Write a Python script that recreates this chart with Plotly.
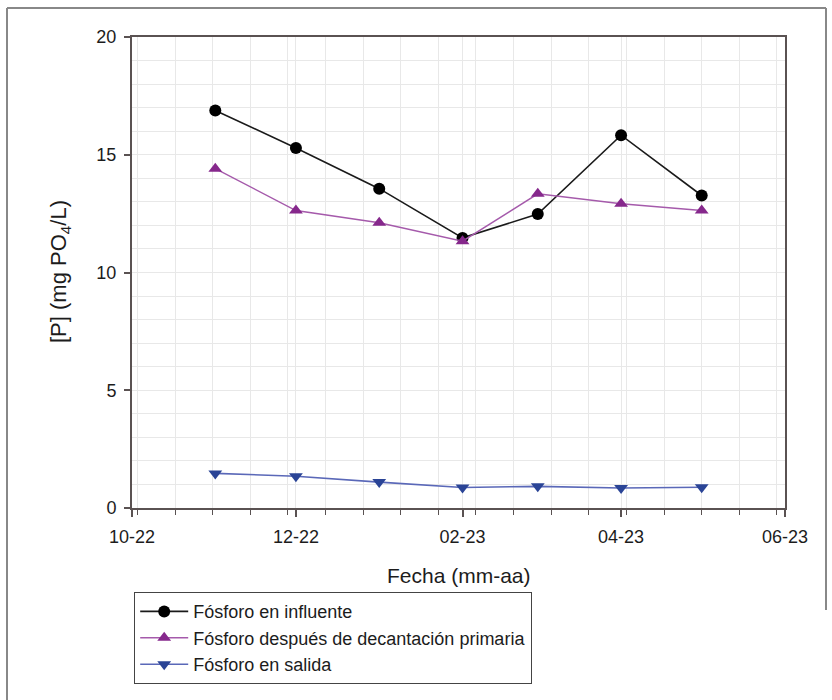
import plotly.graph_objects as go

fechas = ["2022-11-01", "2022-12-01", "2023-01-01", "2023-02-01",
          "2023-03-01", "2023-04-01", "2023-05-01"]
p_influente = [16.88, 15.29, 13.56, 11.47, 12.48, 15.83, 13.27]
p_decantacion = [14.41, 12.63, 12.11, 11.33, 13.34, 12.92, 12.63]
p_salida = [1.47, 1.35, 1.10, 0.87, 0.92, 0.85, 0.88]

nombres = ["Fósforo en influente",
           "Fósforo después de decantación primaria",
           "Fósforo en salida"]
x_ticks_fmt = "%m-%y"

W, H = 832, 700
L, R, T, B = 132, 785, 37, 508
pw, ph = R - L, B - T


def px_x(px):
    return (px - L) / pw


def px_y(py):
    return (B - py) / ph


fig = go.Figure()
fig.add_trace(go.Scatter(
    x=fechas, y=p_influente, name=nombres[0], mode="lines+markers",
    line=dict(color="#1a1a1a", width=1.6),
    marker=dict(symbol="circle", size=12, color="#000000"),
    legendgroup="a"))
fig.add_trace(go.Scatter(
    x=fechas, y=p_decantacion, name=nombres[1], mode="lines+markers",
    line=dict(color="#a55aab", width=1.4),
    marker=dict(symbol="triangle-up", size=12, color="#86288c"),
    legendgroup="b"))
fig.add_trace(go.Scatter(
    x=fechas, y=p_salida, name=nombres[2], mode="lines+markers",
    line=dict(color="#5a68b8", width=1.6),
    marker=dict(symbol="triangle-down", size=12, color="#2a4496"),
    legendgroup="c"))

axcol = "#5a5252"
gridcol = "#e8e8e8"
font = "Liberation Sans, Arial, sans-serif"
txtcol = "#1c1c1c"

fig.update_layout(
    width=W, height=H,
    margin=dict(l=L, r=W - R, t=T, b=H - B, pad=0),
    paper_bgcolor="white", plot_bgcolor="white",
    font=dict(family=font, size=18, color=txtcol),
    showlegend=True,
    legend=dict(x=px_x(134), y=px_y(592), xanchor="left", yanchor="top",
                bordercolor="#444444", borderwidth=1.2, bgcolor="white",
                font=dict(size=18, color=txtcol), tracegroupgap=0,
                itemwidth=48),
    xaxis=dict(
        type="date", range=["2022-10-01", "2023-06-01"],
        tick0="2022-10-01", dtick="M2", tickformat=x_ticks_fmt,
        showline=True, linecolor=axcol, linewidth=2, mirror=True,
        ticks="outside", ticklen=7, tickwidth=1.5, tickcolor=axcol,
        showgrid=True, gridcolor=gridcol, gridwidth=1,
        zeroline=False, ticklabelstandoff=4,
        tickfont=dict(size=18, color=txtcol),
        minor=dict(dtick=14 * 86400000, tick0="2022-10-03",
                   ticks="outside", ticklen=5, tickwidth=1.2,
                   tickcolor=axcol, showgrid=True, gridcolor=gridcol,
                   gridwidth=1),
    ),
    yaxis=dict(
        range=[0, 20], tick0=0, dtick=5,
        showline=True, linecolor=axcol, linewidth=2, mirror=True,
        ticks="outside", ticklen=6, tickwidth=1.5, tickcolor=axcol,
        showgrid=True, gridcolor=gridcol, gridwidth=1,
        zeroline=False, ticklabelstandoff=4,
        tickfont=dict(size=18, color=txtcol),
        minor=dict(dtick=1, showgrid=True, gridcolor=gridcol, gridwidth=1,
                   ticks=""),
    ),
    annotations=[
        dict(text="Fecha (mm-aa)", xref="paper", yref="paper",
             x=px_x(459), y=px_y(575), xanchor="center", yanchor="middle",
             showarrow=False, font=dict(size=21, color=txtcol)),
        dict(text="[P] (mg PO<sub>4</sub>/L)", xref="paper", yref="paper",
             x=px_x(60), y=px_y(272), xanchor="center", yanchor="middle",
             textangle=-90, showarrow=False,
             font=dict(size=22, color=txtcol)),
    ],
    shapes=[
        dict(type="line", xref="paper", yref="paper",
             x0=px_x(7), x1=px_x(7), y0=px_y(8), y1=px_y(702),
             line=dict(color="#888888", width=2)),
        dict(type="line", xref="paper", yref="paper",
             x0=px_x(7), x1=px_x(826), y0=px_y(8), y1=px_y(8),
             line=dict(color="#888888", width=2)),
        dict(type="line", xref="paper", yref="paper",
             x0=px_x(826), x1=px_x(826), y0=px_y(8), y1=px_y(610),
             line=dict(color="#888888", width=2)),
    ],
)

fig.write_html("out.html")
